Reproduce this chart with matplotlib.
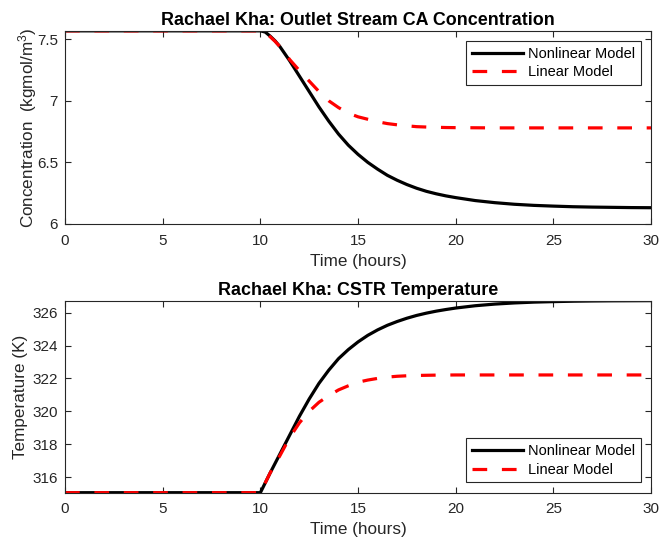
import matplotlib
matplotlib.use('Agg')

import matplotlib.pyplot as plt
import numpy as np

# time points (hours)
t_ca = [0, 10, 10.25, 10.5, 10.75, 11, 11.5, 12, 12.5, 13, 13.5, 14, 14.5, 15, 15.5, 16, 16.5,
        17, 17.5, 18, 18.5, 19, 19.5, 20, 21, 22, 23, 24, 25, 26, 27, 28, 29, 30]

# outlet CA concentration (kgmol/m^3)
ca_nonlinear = [7.568, 7.568, 7.558, 7.525, 7.487, 7.44, 7.325, 7.20, 7.075, 6.95, 6.835,
                6.73, 6.64, 6.565, 6.50, 6.445, 6.395, 6.355, 6.32, 6.29, 6.265, 6.245,
                6.228, 6.214, 6.19, 6.173, 6.16, 6.151, 6.145, 6.14, 6.137, 6.135, 6.133,
                6.132]
ca_linear = [7.568, 7.568, 7.556, 7.52, 7.483, 7.44, 7.335, 7.245, 7.16, 7.075, 7.00, 6.945,
             6.90, 6.87, 6.85, 6.83, 6.815, 6.805, 6.797, 6.79, 6.787, 6.785, 6.783, 6.782,
             6.781, 6.78, 6.78, 6.78, 6.78, 6.78, 6.78, 6.78, 6.78, 6.78]

# CSTR temperature (K)
t_temp = [0, 10, 10.5, 11, 11.5, 12, 12.5, 13, 13.5, 14, 14.5, 15, 15.5, 16, 16.5,
          17, 17.5, 18, 18.5, 19, 19.5, 20, 21, 22, 23, 24, 25, 26, 27, 28, 29, 30]
temp_nonlinear = [315.05, 315.05, 316.25, 317.4, 318.55, 319.7, 320.75, 321.7, 322.5, 323.2,
                  323.75, 324.22, 324.62, 324.95, 325.23, 325.46, 325.66, 325.83, 325.97,
                  326.09, 326.19, 326.28, 326.42, 326.52, 326.59, 326.64, 326.67, 326.695,
                  326.71, 326.72, 326.725, 326.73]
temp_linear = [315.05, 315.05, 316.25, 317.3, 318.4, 319.3, 320.0, 320.55, 320.95, 321.3,
               321.55, 321.77, 321.9, 322.0, 322.08, 322.13, 322.16, 322.18, 322.19, 322.2,
               322.205, 322.21, 322.21, 322.21, 322.21, 322.21, 322.21, 322.21, 322.21,
               322.21, 322.21, 322.21]

plt.rcParams['font.family'] = ['Liberation Sans', 'DejaVu Sans']
plt.rcParams['mathtext.fontset'] = 'custom'
plt.rcParams['mathtext.rm'] = 'Liberation Sans'
plt.rcParams['mathtext.it'] = 'Liberation Sans'

grey = '#262626'
lw = 2.3
dash = (0, (4.6, 4.6))

fig = plt.figure(figsize=(6.6, 5.41), dpi=100)
ax1 = fig.add_axes([0.0985, 0.586, 0.888, 0.357])
ax2 = fig.add_axes([0.0985, 0.0893, 0.888, 0.355])


def style(ax):
    for sp in ax.spines.values():
        sp.set_color(grey)
        sp.set_linewidth(0.8)
    ax.tick_params(direction='in', top=True, right=True, length=4, width=0.8,
                   colors=grey, labelsize=11)
    ax.tick_params(axis='x', pad=7)
    ax.tick_params(axis='y', pad=5)
    ax.set_xlim(0, 30)
    ax.set_xticks([0, 5, 10, 15, 20, 25, 30])
    ax.set_xlabel('Time (hours)', fontsize=12.3, color=grey, labelpad=4.2)


def add_legend(ax, loc):
    leg = ax.legend(loc=loc, fontsize=10.5, fancybox=False, framealpha=1,
                    edgecolor=grey, handlelength=3.5, borderaxespad=0.7,
                    handletextpad=0.35, labelspacing=0.3, borderpad=0.4)
    leg.get_frame().set_linewidth(0.8)


ax1.plot(t_ca, ca_nonlinear, color='black', lw=lw, label='Nonlinear Model')
ax1.plot(t_ca, ca_linear, color='red', lw=lw, ls=dash, label='Linear Model')
style(ax1)
ax1.set_ylim(6, max(ca_nonlinear))
ax1.set_yticks([6, 6.5, 7, 7.5])
ax1.set_yticklabels(['6', '6.5', '7', '7.5'])
ax1.set_ylabel('Concentration  (kgmol/m$^3$)', fontsize=12.3, color=grey, labelpad=-1.5)
ax1.set_title('Rachael Kha: Outlet Stream CA Concentration', fontsize=12.9,
              fontweight='bold', pad=4)
add_legend(ax1, 'upper right')

ax2.plot(t_temp, temp_nonlinear, color='black', lw=lw, label='Nonlinear Model')
ax2.plot(t_temp, temp_linear, color='red', lw=lw, ls=dash, label='Linear Model')
style(ax2)
ax2.set_ylim(min(temp_nonlinear), max(temp_nonlinear))
ax2.set_yticks([316, 318, 320, 322, 324, 326])
ax2.set_ylabel('Temperature (K)', fontsize=12.3, color=grey, labelpad=3)
ax2.set_title('Rachael Kha: CSTR Temperature', fontsize=12.9, fontweight='bold', pad=4)
add_legend(ax2, 'lower right')

plt.savefig('out.png', dpi=100)
